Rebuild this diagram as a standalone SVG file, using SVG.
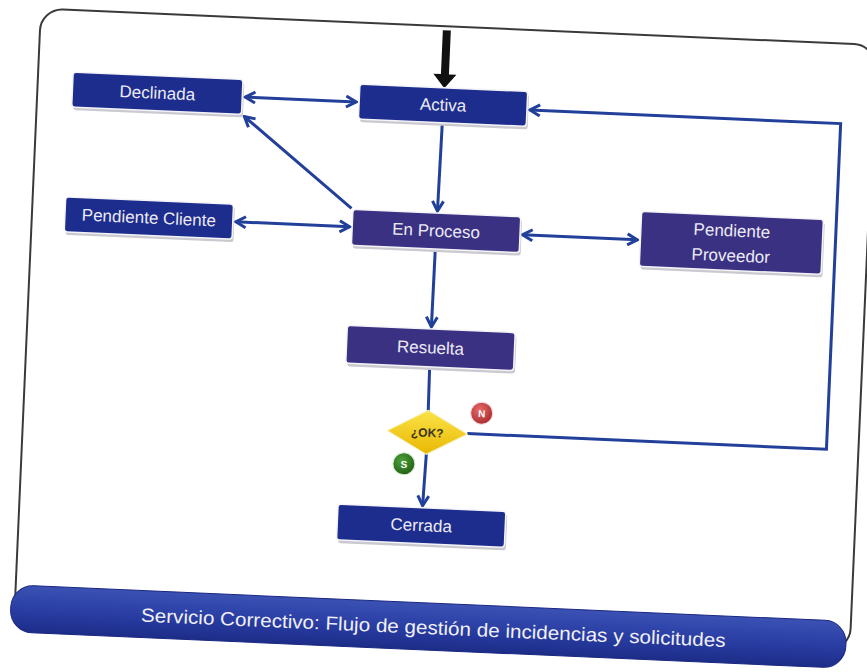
<svg xmlns="http://www.w3.org/2000/svg" width="867" height="672" viewBox="0 0 867 672">
<defs>
<style>
.nb{fill:#1d2d8d;stroke:#f4f4f8;stroke-width:1.5}
.np{fill:#3a3183;stroke:#f4f4f8;stroke-width:1.5}
.sh{fill:#c9c9cf}
.t{font-family:"Liberation Sans",Arial,sans-serif;font-size:17px;fill:#ecebf4;text-anchor:middle;dominant-baseline:central}
.c{fill:none;stroke:#22409a;stroke-width:3}
</style>
<marker id="ah" viewBox="0 0 14 14" markerWidth="14" markerHeight="14" refX="12" refY="7" orient="auto-start-reverse" markerUnits="userSpaceOnUse">
<path d="M2,1.5 L12,7 L2,12.5" fill="none" stroke="#22409a" stroke-width="3" stroke-linejoin="miter"/>
</marker>
<linearGradient id="gy" x1="0" y1="0" x2="0" y2="1">
<stop offset="0" stop-color="#fbe34a"/>
<stop offset="1" stop-color="#e8b800"/>
</linearGradient>
<linearGradient id="gb" x1="0" y1="0" x2="0" y2="1">
<stop offset="0" stop-color="#3b52b4"/>
<stop offset="0.5" stop-color="#2a3ea4"/>
<stop offset="1" stop-color="#1c2c88"/>
</linearGradient>
<radialGradient id="gr" cx="0.4" cy="0.35" r="0.7">
<stop offset="0" stop-color="#e86a6a"/>
<stop offset="1" stop-color="#a82a2c"/>
</radialGradient>
<radialGradient id="gg" cx="0.4" cy="0.35" r="0.7">
<stop offset="0" stop-color="#4fa03a"/>
<stop offset="1" stop-color="#1f5e14"/>
</radialGradient>
</defs>
<rect width="867" height="672" fill="#ffffff"/>
<g transform="rotate(2.5 433 336)">
<rect x="27" y="26" width="836" height="606" rx="22" fill="#ffffff" stroke="#3a3a3a" stroke-width="2"/>
<rect x="23" y="603" width="836" height="47" rx="22" fill="url(#gb)" stroke="#1a2780" stroke-width="1"/>
<text x="446" y="627.5" font-family="'Liberation Sans',Arial,sans-serif" font-size="19" fill="#f0f0f6" text-anchor="middle" dominant-baseline="central" textLength="585" lengthAdjust="spacingAndGlyphs">Servicio Correctivo: Flujo de gestión de incidencias y solicitudes</text>

<g id="connectors">
<path d="M429.5,30 H437.5 V74 H445 L433.5,88 L422,74 H429.5 Z" fill="#111111"/>
<line class="c" x1="235" y1="105.5" x2="346" y2="105.5" marker-start="url(#ah)" marker-end="url(#ah)"/>
<line class="c" x1="433" y1="123" x2="432" y2="211" marker-end="url(#ah)"/>
<line class="c" x1="346" y1="212" x2="235" y2="125" marker-end="url(#ah)"/>
<line class="c" x1="231" y1="230.5" x2="345" y2="230.5" marker-start="url(#ah)" marker-end="url(#ah)"/>
<line class="c" x1="518" y1="231" x2="633" y2="231" marker-start="url(#ah)" marker-end="url(#ah)"/>
<line class="c" x1="431.5" y1="249" x2="431" y2="327" marker-end="url(#ah)"/>
<line class="c" x1="431" y1="367" x2="431.5" y2="411"/>
<line class="c" x1="431.5" y1="454" x2="430" y2="506" marker-end="url(#ah)"/>
<polyline class="c" points="471.5,432 831,432 831,106 520,106" marker-end="url(#ah)"/>
</g>

<g id="declinada">
<rect class="sh" x="63.5" y="91" width="170" height="35" rx="3"/>
<rect class="nb" x="62" y="88" width="170" height="35" rx="3"/>
<text class="t" x="147" y="105.5">Declinada</text>
</g>
<g id="activa">
<rect class="sh" x="350.5" y="90.5" width="168" height="35" rx="3"/>
<rect class="nb" x="349" y="87.5" width="168" height="35" rx="3"/>
<text class="t" x="433" y="105">Activa</text>
</g>
<g id="pendiente-cliente">
<rect class="sh" x="61.5" y="216" width="168" height="35" rx="3"/>
<rect class="nb" x="60" y="213" width="168" height="35" rx="3"/>
<text class="t" x="144" y="230.5">Pendiente Cliente</text>
</g>
<g id="en-proceso">
<rect class="sh" x="349" y="216" width="168" height="36" rx="3"/>
<rect class="np" x="347.5" y="213" width="168" height="36" rx="3"/>
<text class="t" x="431.5" y="231">En Proceso</text>
</g>
<g id="pendiente-proveedor">
<rect class="sh" x="637.5" y="205.5" width="182" height="55" rx="3"/>
<rect class="np" x="636" y="202.5" width="182" height="55" rx="3"/>
<text class="t" x="727" y="218">Pendiente</text>
<text class="t" x="727" y="243">Proveedor</text>
</g>
<g id="resuelta">
<rect class="sh" x="348.5" y="332" width="168" height="38" rx="3"/>
<rect class="np" x="347" y="329" width="168" height="38" rx="3"/>
<text class="t" x="431" y="348">Resuelta</text>
</g>
<g id="ok">
<polygon points="391.5,432.5 431.5,410.5 471.5,432.5 431.5,454.5" fill="url(#gy)" stroke="#f6f0c0" stroke-width="1"/>
<text x="431.5" y="433" font-family="'Liberation Sans',Arial,sans-serif" font-size="12" font-weight="bold" fill="#3a3320" text-anchor="middle" dominant-baseline="central">¿OK?</text>
</g>
<g id="n">
<circle cx="485" cy="411" r="11" fill="url(#gr)" stroke="#f2dede" stroke-width="1"/>
<text x="485" y="411.5" font-family="'Liberation Sans',Arial,sans-serif" font-size="10" font-weight="bold" fill="#ffffff" text-anchor="middle" dominant-baseline="central">N</text>
</g>
<g id="s">
<circle cx="409.5" cy="465" r="11" fill="url(#gg)" stroke="#dcebd6" stroke-width="1"/>
<text x="409.5" y="465.5" font-family="'Liberation Sans',Arial,sans-serif" font-size="10" font-weight="bold" fill="#ffffff" text-anchor="middle" dominant-baseline="central">S</text>
</g>
<g id="cerrada">
<rect class="sh" x="347" y="511" width="168" height="36" rx="3"/>
<rect class="nb" x="345.5" y="508" width="168" height="36" rx="3"/>
<text class="t" x="429.5" y="526">Cerrada</text>
</g>
</g>
</svg>
